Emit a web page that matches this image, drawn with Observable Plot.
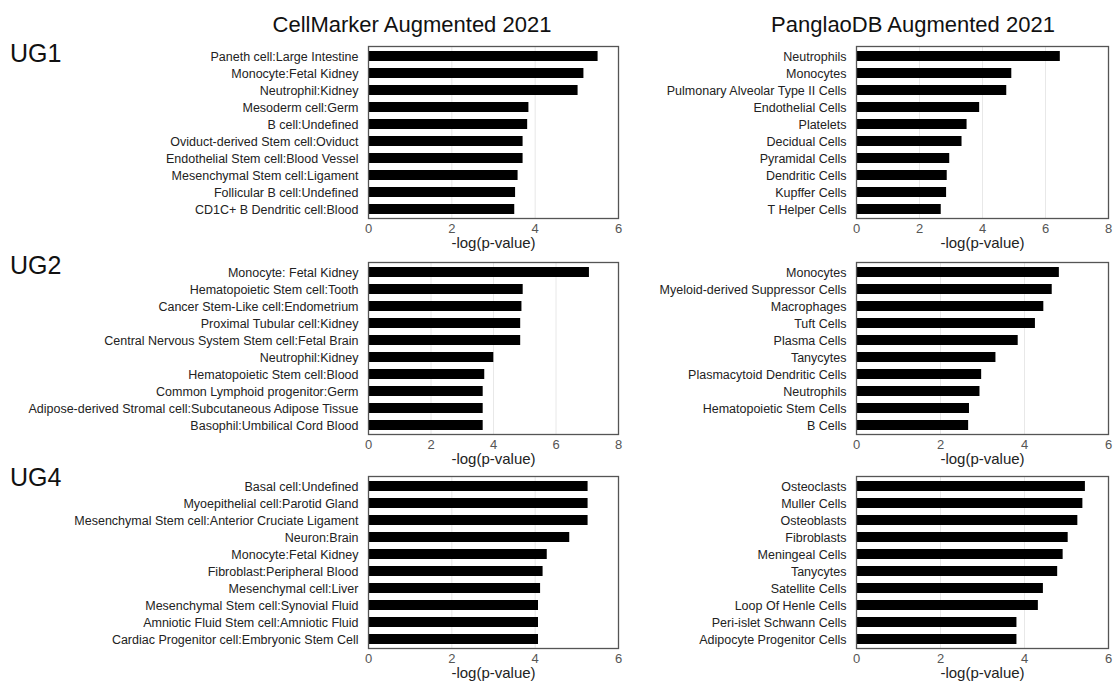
<!DOCTYPE html>
<html>
<head>
<meta charset="utf-8">
<script src="https://cdn.jsdelivr.net/npm/d3@7"></script>
<script src="https://cdn.jsdelivr.net/npm/@observablehq/plot@0.6"></script>
<style>
  body { margin: 0; background: #fff; }
  #root { position: relative; width: 1114px; height: 685px; overflow: hidden; font-family: "Liberation Sans", Arial, sans-serif; }
  #root > svg, #root > figure { position: absolute; margin: 0; }
</style>
</head>
<body>
<div id="root"></div>
<script>
// ---------- Data ----------
const groupLabels = ["UG1", "UG2", "UG4"];
const libraryTitles = ["CellMarker Augmented 2021", "PanglaoDB Augmented 2021"];
const axisTitle = "-log(p-value)";

const ug1CellMarkerTerms = ["Paneth cell:Large Intestine", "Monocyte:Fetal Kidney", "Neutrophil:Kidney", "Mesoderm cell:Germ", "B cell:Undefined", "Oviduct-derived Stem cell:Oviduct", "Endothelial Stem cell:Blood Vessel", "Mesenchymal Stem cell:Ligament", "Follicular B cell:Undefined", "CD1C+ B Dendritic cell:Blood"];
const ug1CellMarkerValues = [5.51, 5.17, 5.03, 3.85, 3.82, 3.71, 3.71, 3.59, 3.53, 3.51];

const ug1PanglaoTerms = ["Neutrophils", "Monocytes", "Pulmonary Alveolar Type II Cells", "Endothelial Cells", "Platelets", "Decidual Cells", "Pyramidal Cells", "Dendritic Cells", "Kupffer Cells", "T Helper Cells"];
const ug1PanglaoValues = [6.47, 4.93, 4.77, 3.91, 3.51, 3.35, 2.96, 2.88, 2.86, 2.69];

const ug2CellMarkerTerms = ["Monocyte: Fetal Kidney", "Hematopoietic Stem cell:Tooth", "Cancer Stem-Like cell:Endometrium", "Proximal Tubular cell:Kidney", "Central Nervous System Stem cell:Fetal Brain", "Neutrophil:Kidney", "Hematopoietic Stem cell:Blood", "Common Lymphoid progenitor:Germ", "Adipose-derived Stromal cell:Subcutaneous Adipose Tissue", "Basophil:Umbilical Cord Blood"];
const ug2CellMarkerValues = [7.07, 4.95, 4.91, 4.87, 4.87, 4.01, 3.72, 3.67, 3.67, 3.67];

const ug2PanglaoTerms = ["Monocytes", "Myeloid-derived Suppressor Cells", "Macrophages", "Tuft Cells", "Plasma Cells", "Tanycytes", "Plasmacytoid Dendritic Cells", "Neutrophils", "Hematopoietic Stem Cells", "B Cells"];
const ug2PanglaoValues = [4.83, 4.66, 4.46, 4.26, 3.85, 3.32, 2.98, 2.94, 2.69, 2.67];

const ug4CellMarkerTerms = ["Basal cell:Undefined", "Myoepithelial cell:Parotid Gland", "Mesenchymal Stem cell:Anterior Cruciate Ligament", "Neuron:Brain", "Monocyte:Fetal Kidney", "Fibroblast:Peripheral Blood", "Mesenchymal cell:Liver", "Mesenchymal Stem cell:Synovial Fluid", "Amniotic Fluid Stem cell:Amniotic Fluid", "Cardiac Progenitor cell:Embryonic Stem Cell"];
const ug4CellMarkerValues = [5.27, 5.27, 5.27, 4.83, 4.29, 4.19, 4.13, 4.08, 4.08, 4.08];

const ug4PanglaoTerms = ["Osteoclasts", "Muller Cells", "Osteoblasts", "Fibroblasts", "Meningeal Cells", "Tanycytes", "Satellite Cells", "Loop Of Henle Cells", "Peri-islet Schwann Cells", "Adipocyte Progenitor Cells"];
const ug4PanglaoValues = [5.45, 5.39, 5.27, 5.04, 4.92, 4.79, 4.45, 4.33, 3.82, 3.82];

const xMaxima = [6, 8, 8, 6, 6, 6];
const xTickStep = 2;

// ---------- Layout ----------
const FONT = "Liberation Sans, Arial, Helvetica, sans-serif";
const rowFrameTop = [46, 262, 476];
const frameH = 172;
const colLayout = [
  { left: 0, width: 630, marginLeft: 368, marginRight: 12 },
  { left: 630, width: 484, marginLeft: 226, marginRight: 6 }
];
const mTop = 8, mBottom = 42;

const panels = [
  [ug1CellMarkerTerms, ug1CellMarkerValues],
  [ug1PanglaoTerms, ug1PanglaoValues],
  [ug2CellMarkerTerms, ug2CellMarkerValues],
  [ug2PanglaoTerms, ug2PanglaoValues],
  [ug4CellMarkerTerms, ug4CellMarkerValues],
  [ug4PanglaoTerms, ug4PanglaoValues]
];

const root = document.getElementById("root");

panels.forEach(([terms, values], i) => {
  const row = Math.floor(i / 2), col = i % 2;
  const c = colLayout[col];
  const xMax = xMaxima[i];
  const data = terms.map((t, k) => ({ term: t, value: values[k] }));
  const chart = Plot.plot({
    width: c.width,
    height: mTop + frameH + mBottom,
    marginLeft: c.marginLeft,
    marginRight: c.marginRight,
    marginTop: mTop,
    marginBottom: mBottom,
    style: { background: "transparent", fontFamily: FONT, overflow: "visible" },
    x: { domain: [0, xMax], label: null },
    y: { domain: terms, label: null, paddingInner: 0.42, paddingOuter: 0.21 },
    marks: [
      Plot.gridX({ ticks: d3.range(xTickStep, xMax, xTickStep), stroke: "#e2e2e2", strokeOpacity: 1, strokeWidth: 0.8 }),
      Plot.barX(data, { x: "value", y: "term", fill: "#000" }),
      Plot.frame({ stroke: "#555", strokeWidth: 1.3 }),
      Plot.axisX({ ticks: d3.range(0, xMax + 0.001, xTickStep), tickFormat: d3.format("d"), tickSize: 0, tickPadding: 5, label: null, fontSize: 13, fill: "#555" }),
      Plot.axisY({ tickSize: 0, tickPadding: 10, label: null, fontSize: 12.5, fill: "#222" }),
      Plot.text([axisTitle], { frameAnchor: "bottom", dy: 29, fontSize: 15, fill: "#222" })
    ]
  });
  chart.style.left = c.left + "px";
  chart.style.top = (rowFrameTop[row] - mTop) + "px";
  root.appendChild(chart);
});

// Titles and group labels
const overlay = d3.select(root).append("svg")
  .attr("width", 1114).attr("height", 685)
  .style("left", "0px").style("top", "0px").style("pointer-events", "none")
  .style("font-family", FONT);

const titleX = [412, 913];
libraryTitles.forEach((t, k) => {
  overlay.append("text").attr("x", titleX[k]).attr("y", 32)
    .attr("text-anchor", "middle").attr("font-size", 22).attr("fill", "#111")
    .text(t);
});
const ugBaseline = [62, 274, 486];
groupLabels.forEach((g, k) => {
  overlay.append("text").attr("x", 10).attr("y", ugBaseline[k])
    .attr("font-size", 25).attr("fill", "#111").text(g);
});
</script>
</body>
</html>
